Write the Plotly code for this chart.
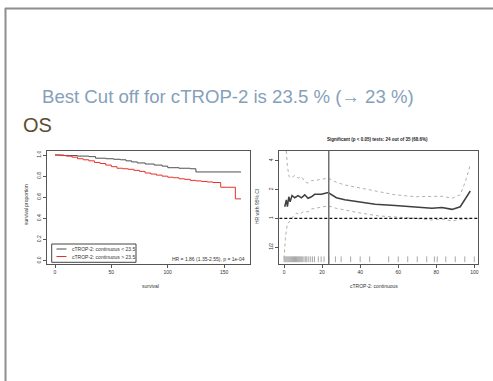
import plotly.graph_objects as go

W, H = 493, 381
FONT = "Liberation Sans, Arial, sans-serif"

# ---- data: Kaplan-Meier (left) ----
km_low_t = [0, 8, 20, 30, 36, 45, 52, 58, 63, 68, 73, 80, 88, 95, 100, 110, 120, 125, 165]
km_low_s = [1.0, 0.995, 0.99, 0.985, 0.97, 0.965, 0.96, 0.955, 0.945, 0.935, 0.925, 0.915, 0.905, 0.895, 0.88, 0.875, 0.87, 0.84, 0.84]
km_high_t = [0, 5, 10, 15, 20, 25, 30, 35, 40, 45, 50, 55, 60, 65, 70, 75, 80, 85, 90, 95, 100, 105, 110, 115, 120, 125, 130, 135, 140, 147, 160, 165]
km_high_s = [1.0, 0.995, 0.99, 0.98, 0.965, 0.955, 0.945, 0.93, 0.92, 0.905, 0.89, 0.875, 0.87, 0.865, 0.855, 0.845, 0.83, 0.82, 0.81, 0.80, 0.79, 0.785, 0.775, 0.77, 0.76, 0.755, 0.75, 0.745, 0.74, 0.695, 0.585, 0.585]
km_xticks = [0, 50, 100, 150]
km_yticks = [0.0, 0.2, 0.4, 0.6, 0.8, 1.0]
km_ytext = ["0.0", "0.2", "0.4", "0.6", "0.8", "1.0"]

# ---- data: HR vs cut-off (right) ----
hr_x = [0.35, 1.2, 1.75, 2.5, 3.2, 4.2, 5.6, 7.4, 9.1, 10.9, 12.6, 14.4, 16.1, 19.6, 23.2, 27.5, 31.9, 39, 47.9, 58.4, 69, 77.7, 83, 88.3, 92.6, 97.9]
hr_y = [1.32, 1.56, 1.32, 1.68, 1.49, 1.73, 1.64, 1.73, 1.64, 1.76, 1.62, 1.68, 1.78, 1.78, 1.86, 1.64, 1.56, 1.49, 1.40, 1.36, 1.32, 1.27, 1.30, 1.24, 1.32, 1.93]
up_x = [0.3, 1.0, 1.7, 2.6, 3.5, 5.6, 7.4, 9.1, 10.9, 12.6, 14.4, 17.9, 23.2, 27.5, 31.9, 40.7, 49.5, 58.4, 69, 77.7, 83, 88.3, 92.6, 95.3, 97.9]
up_y = [9.0, 5.0, 3.6, 2.73, 2.63, 2.8, 2.63, 2.73, 2.42, 2.33, 2.47, 2.52, 2.63, 2.38, 2.23, 2.06, 1.90, 1.76, 1.68, 1.68, 1.70, 1.62, 1.76, 2.42, 3.62]
lo_x = [0.0, 0.7, 1.75, 2.9, 4.7, 6.5, 8.2, 10, 12.6, 14.4, 17.9, 23.2, 27.5, 31.9, 40.7, 49.5, 58.4, 69, 77.7, 83, 88.3, 92.6, 97.9]
lo_y = [0.38, 0.62, 0.89, 0.92, 1.04, 1.13, 1.10, 1.17, 1.17, 1.25, 1.29, 1.35, 1.27, 1.22, 1.13, 1.06, 1.04, 1.00, 0.96, 0.98, 0.94, 0.97, 0.99]
rug_x = [0, 0.5, 1, 1.5, 2, 2.5, 3, 3.5, 4, 4.5, 5, 5.5, 6, 6.5, 7, 7.5, 8, 8.5, 9, 9.5, 10, 11, 11.5, 12, 13, 14, 15, 16, 18, 19.5, 21, 23.5, 27, 30, 35, 40, 45, 55, 60, 65, 70, 75, 79, 80.5, 85, 90, 95, 100]
best_cut = 23.5
hr_xticks = [0, 20, 40, 60, 80, 100]
hr_yticks = [0.5, 1, 2, 4]
hr_ytext = ["1/2", "1", "2", "4"]


def px(x):
    return x / W


def py(y):
    return 1 - y / H


fig = go.Figure()

fig.add_trace(go.Scatter(x=km_low_t, y=km_low_s, mode="lines", line=dict(shape="hv", color="#505050", width=1),
                         xaxis="x", yaxis="y", showlegend=False))
fig.add_trace(go.Scatter(x=km_high_t, y=km_high_s, mode="lines", line=dict(shape="hv", color="#e8302a", width=1),
                         xaxis="x", yaxis="y", showlegend=False))

# rug
rx, ry = [], []
for v in rug_x:
    rx += [v, v, None]
    ry += [0.348, 0.40, None]
fig.add_trace(go.Scatter(x=rx, y=ry, mode="lines", line=dict(color="#a8a8a8", width=1),
                         xaxis="x2", yaxis="y2", showlegend=False))
fig.add_trace(go.Scatter(x=up_x, y=up_y, mode="lines", line=dict(color="#b0b0b0", width=1, dash="dot"),
                         xaxis="x2", yaxis="y2", showlegend=False))
fig.add_trace(go.Scatter(x=lo_x, y=lo_y, mode="lines", line=dict(color="#b0b0b0", width=1, dash="dot"),
                         xaxis="x2", yaxis="y2", showlegend=False))
fig.add_trace(go.Scatter(x=hr_x, y=hr_y, mode="lines", line=dict(color="#404040", width=1.5),
                         xaxis="x2", yaxis="y2", showlegend=False))

axis_common = dict(showline=True, mirror=True, linecolor="#555555", linewidth=1, ticks="outside",
                   ticklen=3, tickcolor="#555555", showgrid=False, zeroline=False,
                   tickfont=dict(size=5, color="#333333", family=FONT))

fig.update_layout(
    width=W, height=H, margin=dict(l=0, r=0, t=0, b=0),
    paper_bgcolor="white", plot_bgcolor="white",
    xaxis=dict(domain=[px(47), px(250)], range=[-7.1, 173], tickvals=km_xticks, anchor="y", **axis_common),
    yaxis=dict(domain=[py(263.5), py(150.5)], range=[-0.027, 1.043], tickvals=km_yticks, ticktext=km_ytext,
               tickangle=-90, anchor="x", **axis_common),
    xaxis2=dict(domain=[px(279.3), px(478.3)], range=[-2.5, 102.1], tickvals=hr_xticks, anchor="y2", **axis_common),
    yaxis2=dict(domain=[py(264), py(150.7)], type="log", range=[-0.4777, 0.7066], tickvals=hr_yticks,
                ticktext=hr_ytext, tickangle=-90, anchor="x2", **axis_common),
)

shapes = [
    # slide frame
    dict(type="line", xref="paper", yref="paper", x0=px(5), x1=1, y0=py(8.5), y1=py(8.5),
         line=dict(color="#8e8e8e", width=2)),
    dict(type="line", xref="paper", yref="paper", x0=px(5.5), x1=px(5.5), y0=py(8), y1=0,
         line=dict(color="#8e8e8e", width=2)),
    # legend box
    dict(type="rect", xref="paper", yref="paper", x0=px(51.7), x1=px(136), y0=py(262.3), y1=py(244),
         line=dict(color="#444444", width=1), fillcolor="white"),
    dict(type="line", xref="paper", yref="paper", x0=px(56.5), x1=px(66.5), y0=py(249), y1=py(249),
         line=dict(color="#505050", width=1)),
    dict(type="line", xref="paper", yref="paper", x0=px(56.5), x1=px(66.5), y0=py(256.5), y1=py(256.5),
         line=dict(color="#e8302a", width=1)),
    # reference lines on right plot
    dict(type="line", xref="x2", yref="y2", x0=-2.5, x1=102.1, y0=1, y1=1,
         line=dict(color="#111111", width=1.2, dash="3px,2px")),
    dict(type="line", xref="x2", yref="paper", x0=best_cut, x1=best_cut, y0=py(264), y1=py(150.7),
         line=dict(color="#707070", width=1.5)),
]
fig.update_layout(shapes=shapes)

small = dict(size=5, color="#333333", family=FONT)
ann = [
    dict(text="Best Cut off for cTROP-2 is 23.5 % (\u2192 23 %)", x=px(40), y=py(96), xanchor="left",
         yanchor="middle", font=dict(size=18.6, color="#85a1ba", family=FONT)),
    dict(text="OS", x=px(21), y=py(125), xanchor="left", yanchor="middle",
         font=dict(size=20, color="#5a4e2e", family=FONT)),
    dict(text="cTROP-2: continuous < 23.5", x=px(70), y=py(249), xanchor="left", yanchor="middle", font=small),
    dict(text="cTROP-2: continuous > 23.5", x=px(70), y=py(256.5), xanchor="left", yanchor="middle", font=small),
    dict(text="HR = 1.86 (1.35-2.55), p = 1e-04", x=px(247.5), y=py(259), xanchor="right", yanchor="middle",
         font=small),
    dict(text="survival proportion", x=px(26), y=py(205), textangle=-90, xanchor="center", yanchor="middle",
         font=small),
    dict(text="survival", x=px(150), y=py(286), xanchor="center", yanchor="middle", font=small),
    dict(text="HR with 95% CI", x=px(257), y=py(207), textangle=-90, xanchor="center", yanchor="middle",
         font=small),
    dict(text="cTROP-2: continuous", x=px(374), y=py(285.5), xanchor="center", yanchor="middle", font=small),
    dict(text="<b>Significant (p < 0.05) tests: 24 out of 35 (68.6%)</b>", x=px(377), y=py(139),
         xanchor="center", yanchor="middle", font=dict(size=4.5, color="#222222", family=FONT)),
]
for a in ann:
    a.update(xref="paper", yref="paper", showarrow=False)
fig.update_layout(annotations=ann)

fig.write_html("out.html")
